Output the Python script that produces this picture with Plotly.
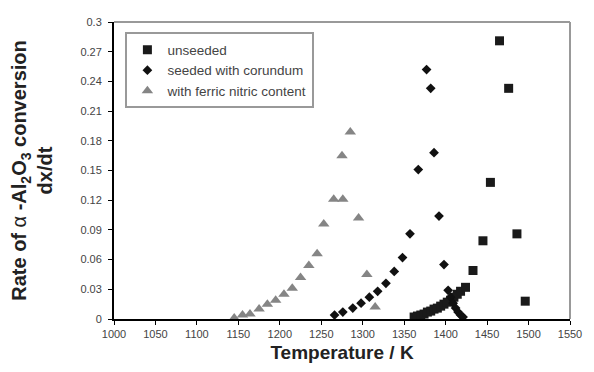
import plotly.graph_objects as go

# unseeded (squares)
unseeded_T = [1362, 1366, 1370, 1374, 1378, 1382, 1386, 1390, 1394, 1398, 1402, 1406, 1410, 1414, 1418,
              1424, 1433, 1445, 1454, 1465, 1476, 1486, 1496]
unseeded_r = [0.002, 0.003, 0.004, 0.005, 0.007, 0.008, 0.010, 0.011, 0.013, 0.015, 0.017, 0.019, 0.022, 0.025, 0.028,
              0.032, 0.049, 0.079, 0.138, 0.281, 0.233, 0.086, 0.018]

# seeded with corundum (diamonds)
seeded_T = [1266, 1276, 1288, 1298, 1308, 1318, 1328, 1338, 1348, 1357, 1367, 1377, 1382, 1386, 1392, 1398,
            1403, 1406, 1409, 1412, 1415, 1418, 1421]
seeded_r = [0.004, 0.007, 0.011, 0.016, 0.022, 0.028, 0.036, 0.048, 0.062, 0.086, 0.151, 0.252, 0.233, 0.168, 0.104, 0.055,
            0.029, 0.022, 0.016, 0.011, 0.007, 0.004, 0.002]

# with ferric nitric content (triangles)
ferric_T = [1145, 1155, 1164, 1175, 1185, 1195, 1205, 1215, 1225, 1235, 1245, 1253, 1265, 1276, 1275, 1285,
            1295, 1305, 1315]
ferric_r = [0.001, 0.004, 0.005, 0.010, 0.015, 0.019, 0.025, 0.031, 0.042, 0.054, 0.066, 0.096, 0.121, 0.121, 0.165, 0.189,
            0.102, 0.045, 0.012]

y_ticks = [0, 0.03, 0.06, 0.09, 0.12, 0.15, 0.18, 0.21, 0.24, 0.27, 0.3]
y_tick_labels = ["0", "0.03", "0.06", "0.09", "0.12", "0.15", "0.18", "0.21", "0.24", "0.27", "0.3"]
x_ticks = list(range(1000, 1551, 50))

fig = go.Figure()
fig.add_trace(go.Scatter(x=unseeded_T, y=unseeded_r, mode="markers", name="unseeded",
                         marker=dict(symbol="square", size=9, color="#1a1a1a")))
fig.add_trace(go.Scatter(x=seeded_T, y=seeded_r, mode="markers", name="seeded with corundum",
                         marker=dict(symbol="diamond", size=7.5, color="#111111")))
fig.add_trace(go.Scatter(x=ferric_T, y=ferric_r, mode="markers", name="with ferric nitric content",
                         marker=dict(symbol="triangle-up", size=10, color="#858585")))

font_family = "Liberation Sans, Arial, sans-serif"
fig.update_layout(
    width=594, height=372,
    margin=dict(l=114, r=14, t=22, b=50),
    paper_bgcolor="white", plot_bgcolor="white",
    font=dict(family=font_family, size=11, color="#444"),
    showlegend=True,
    legend=dict(x=0.025, y=0.965, xanchor="left", yanchor="top",
                bgcolor="white", bordercolor="#999", borderwidth=2,
                font=dict(size=13.5, color="#444"), itemsizing="trace",
                tracegroupgap=0, itemwidth=30),
    xaxis=dict(range=[1000, 1550], tickvals=x_ticks, showgrid=False, zeroline=False,
               showline=True, linecolor="black", linewidth=2,
               ticks="outside", ticklen=4, tickcolor="black", tickwidth=1,
               tickfont=dict(size=11, color="#444"),
               title=dict(text="<b>Temperature / K</b>", font=dict(size=19, color="#222"), standoff=6)),
    yaxis=dict(range=[0, 0.3], tickvals=y_ticks, ticktext=y_tick_labels, showgrid=False, zeroline=False,
               showline=True, linecolor="black", linewidth=2,
               ticks="outside", ticklen=4, tickcolor="black", tickwidth=1,
               tickfont=dict(size=11, color="#444"), ticklabelstandoff=4,
               title=dict(text="<b>Rate of </b>α<b> -Al<sub>2</sub>O<sub>3</sub> conversion<br>dx/dt</b>",
                          font=dict(size=20, color="#222"), standoff=22)),
    shapes=[
        dict(type="line", xref="paper", yref="paper", x0=0, x1=1, y0=1, y1=1,
             line=dict(color="#999", width=2)),
        dict(type="line", xref="paper", yref="paper", x0=1, x1=1, y0=0, y1=1,
             line=dict(color="#999", width=2)),
    ],
)

fig.write_html("out.html")
